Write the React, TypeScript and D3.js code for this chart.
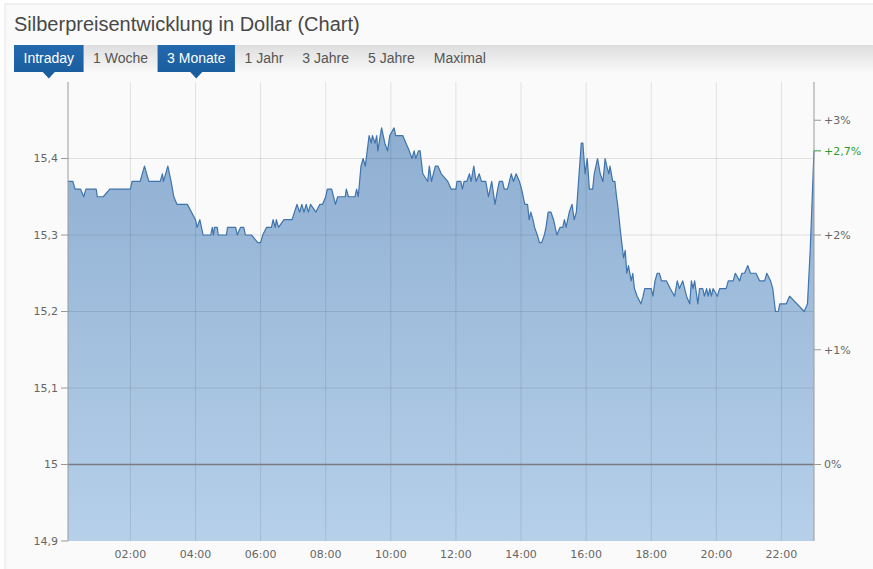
import React from 'react';
import * as d3 from 'd3';

// ---- data ----
const chartTitle = 'Silberpreisentwicklung in Dollar (Chart)';
const tabLabels = ['Intraday', '1 Woche', '3 Monate', '1 Jahr', '3 Jahre', '5 Jahre', 'Maximal'];
const activeTabs = ['Intraday', '3 Monate'];

// minutes since 00:00
const minutes = [
  5, 14, 18, 28, 34, 38, 57, 59, 70, 82,
  120, 123, 138, 146, 150, 154, 175, 179, 181, 189,
  195, 200, 206, 225, 240, 243, 248, 254, 268, 271,
  273, 275, 280, 282, 297, 299, 314, 317, 323, 329,
  332, 343, 355, 360, 364, 371, 380, 383, 387, 389,
  393, 403, 418, 427, 432, 436, 440, 444, 448, 452,
  462, 469, 474, 480, 483, 491, 498, 502, 516, 518,
  522, 534, 537, 540, 545, 549, 553, 560, 564, 566,
  571, 574, 576, 583, 589, 594, 598, 606, 609, 622,
  628, 634, 639, 643, 646, 651, 654, 659, 668, 671,
  675, 682, 687, 693, 705, 711, 720, 722, 729, 732,
  735, 740, 745, 748, 753, 757, 763, 767, 775, 780,
  786, 792, 797, 800, 806, 809, 815, 822, 826, 831,
  837, 841, 847, 852, 855, 858, 862, 865, 870, 874,
  878, 883, 886, 890, 895, 900, 906, 912, 917, 920,
  923, 929, 934, 938, 942, 946, 951, 954, 958, 962,
  966, 972, 975, 981, 986, 991, 995, 998, 1002, 1004,
  1009, 1013, 1016, 1018, 1024, 1029, 1032, 1035, 1038, 1043,
  1046, 1049, 1054, 1061, 1065, 1068, 1080, 1083, 1087, 1091,
  1095, 1099, 1108, 1115, 1123, 1128, 1132, 1138, 1145, 1151,
  1154, 1157, 1160, 1166, 1169, 1175, 1178, 1182, 1185, 1188,
  1191, 1194, 1202, 1206, 1218, 1222, 1231, 1235, 1243, 1247,
  1252, 1258, 1263, 1273, 1280, 1289, 1293, 1300, 1304, 1309,
  1314, 1317, 1329, 1335, 1362, 1368, 1373, 1380,
];

const prices = [
  15.37, 15.37, 15.36, 15.36, 15.35, 15.36, 15.36, 15.35, 15.35, 15.36,
  15.36, 15.37, 15.37, 15.39, 15.38, 15.37, 15.37, 15.38, 15.37, 15.39,
  15.37, 15.35, 15.34, 15.34, 15.32, 15.31, 15.32, 15.30, 15.30, 15.31,
  15.30, 15.31, 15.31, 15.30, 15.30, 15.31, 15.31, 15.30, 15.31, 15.31,
  15.30, 15.30, 15.29, 15.29, 15.30, 15.31, 15.31, 15.32, 15.31, 15.32,
  15.31, 15.32, 15.32, 15.34, 15.33, 15.34, 15.33, 15.34, 15.33, 15.34,
  15.33, 15.34, 15.34, 15.35, 15.36, 15.36, 15.34, 15.35, 15.35, 15.36,
  15.35, 15.35, 15.36, 15.35, 15.39, 15.40, 15.39, 15.43, 15.42, 15.43,
  15.42, 15.43, 15.41, 15.44, 15.42, 15.41, 15.43, 15.44, 15.43, 15.43,
  15.42, 15.41, 15.40, 15.41, 15.40, 15.41, 15.41, 15.38, 15.37, 15.39,
  15.37, 15.39, 15.39, 15.38, 15.37, 15.36, 15.36, 15.37, 15.37, 15.36,
  15.37, 15.37, 15.38, 15.37, 15.39, 15.37, 15.38, 15.37, 15.37, 15.35,
  15.37, 15.34, 15.36, 15.37, 15.37, 15.36, 15.36, 15.38, 15.37, 15.38,
  15.37, 15.36, 15.34, 15.34, 15.32, 15.33, 15.32, 15.31, 15.30, 15.29,
  15.29, 15.30, 15.31, 15.33, 15.33, 15.32, 15.30, 15.31, 15.31, 15.32,
  15.31, 15.33, 15.34, 15.32, 15.33, 15.37, 15.42, 15.42, 15.38, 15.40,
  15.36, 15.36, 15.38, 15.40, 15.38, 15.37, 15.40, 15.39, 15.38, 15.39,
  15.37, 15.37, 15.35, 15.34, 15.30, 15.27, 15.28, 15.25, 15.26, 15.24,
  15.25, 15.23, 15.22, 15.21, 15.22, 15.23, 15.23, 15.22, 15.24, 15.25,
  15.25, 15.24, 15.24, 15.23, 15.22, 15.24, 15.23, 15.24, 15.22, 15.21,
  15.24, 15.23, 15.24, 15.21, 15.23, 15.23, 15.22, 15.23, 15.22, 15.23,
  15.22, 15.23, 15.22, 15.23, 15.23, 15.24, 15.24, 15.25, 15.24, 15.25,
  15.25, 15.26, 15.25, 15.25, 15.24, 15.24, 15.25, 15.24, 15.23, 15.20,
  15.20, 15.21, 15.21, 15.22, 15.20, 15.21, 15.28, 15.41,
];

const hourTicks = [2, 4, 6, 8, 10, 12, 14, 16, 18, 20, 22];
const priceTicks = [14.9, 15, 15.1, 15.2, 15.3, 15.4];
const percentTicks = [0, 1, 2, 3];
const basePrice = 15.0;
const timeDomain = [5, 1380];
const priceDomain = [14.9, 15.5];

const deLocale = d3.formatLocale({ decimal: ',', thousands: '.', grouping: [3], currency: ['', ' €'] });
const fmtPrice = deLocale.format('.3~r');
const fmtPct = deLocale.format('.2~r');

function measure(text: string, font: string): number {
  const c = document.createElement('canvas').getContext('2d');
  if (!c) return text.length * 7;
  c.font = font;
  return c.measureText(text).width;
}

export default function App() {
  const W = 873;
  const H = 569;
  const left = 68;
  const right = 814;
  const top = 82;
  const bottom = 541;

  const x = d3.scaleLinear().domain(timeDomain).range([left, right]);
  const y = d3.scaleLinear().domain(priceDomain).range([bottom, top]);
  const yPct = (p: number) => y(basePrice * (1 + p / 100));

  const data = minutes.map((m, i) => ({ t: m, v: prices[i] }));
  const area = d3.area<{ t: number; v: number }>()
    .x(d => x(d.t))
    .y0(bottom)
    .y1(d => y(d.v));
  const line = d3.line<{ t: number; v: number }>()
    .x(d => x(d.t))
    .y(d => y(d.v));

  const last = prices[prices.length - 1];
  const lastPct = (last / basePrice - 1) * 100;

  const tabFont = '14px "Liberation Sans", Arial, sans-serif';
  const pad = 9.5;
  let cx = 14;
  const tabs = tabLabels.map(label => {
    const w = measure(label, tabFont);
    const t = { label, x0: cx, w: w + 2 * pad, active: activeTabs.includes(label) };
    cx += w + 2 * pad;
    return t;
  });

  const axisFont = '"DejaVu Sans", Verdana, sans-serif';
  const gridColor = 'rgba(0,0,0,0.1)';

  return (
    <svg width={W} height={H} style={{ position: 'absolute', left: 0, top: 0, background: '#ffffff' }}>
      <defs>
        <linearGradient id="tabbar" x1="0" y1="0" x2="0" y2="1">
          <stop offset="0" stopColor="#dedede" />
          <stop offset="1" stopColor="#f8f8f8" />
        </linearGradient>
        <linearGradient id="areaFill" gradientUnits="userSpaceOnUse" x1="0" y1={top} x2="0" y2={bottom}>
          <stop offset="0" stopColor="#8aabcf" />
          <stop offset="1" stopColor="#b6d0ea" />
        </linearGradient>
        <linearGradient id="btn" x1="0" y1="0" x2="0" y2="1">
          <stop offset="0" stopColor="#2369ad" />
          <stop offset="1" stopColor="#1a5e9f" />
        </linearGradient>
      </defs>

      <rect x={5} y={4} width={W} height={H} fill="#fafafa" stroke="#e4e4e4" />

      <text x={14} y={30.5} fontFamily='"Liberation Sans", Arial, sans-serif' fontSize={20} fill="#484848">
        {chartTitle}
      </text>

      <rect x={14} y={45} width={W - 14} height={27} fill="url(#tabbar)" />
      {tabs.map(t => (
        <g key={t.label}>
          {t.active && (
            <>
              <rect x={t.x0} y={45} width={t.w} height={27} fill="url(#btn)" />
              <path
                d={`M${t.x0 + t.w / 2 - 6},72 L${t.x0 + t.w / 2 + 6},72 L${t.x0 + t.w / 2},78.5 Z`}
                fill="#1a5e9f"
              />
            </>
          )}
          <text
            x={t.x0 + pad}
            y={63.3}
            fontFamily='"Liberation Sans", Arial, sans-serif'
            fontSize={14}
            fill={t.active ? '#ffffff' : '#555555'}
          >
            {t.label}
          </text>
        </g>
      ))}

      {/* area */}
      <path d={area(data) || ''} fill="url(#areaFill)" />

      {/* grid */}
      {hourTicks.map(h => (
        <line key={'v' + h} x1={x(h * 60)} x2={x(h * 60)} y1={top} y2={bottom} stroke={gridColor} strokeWidth={1} />
      ))}
      {priceTicks.filter(p => p > 15.0 + 1e-9).map(p => (
        <line key={'h' + p} x1={left} x2={right} y1={y(p)} y2={y(p)} stroke={gridColor} strokeWidth={1} />
      ))}
      <line x1={left} x2={right} y1={y(basePrice)} y2={y(basePrice)} stroke="#7a7a82" strokeWidth={1.3} />

      {/* price line */}
      <path d={line(data) || ''} fill="none" stroke="#3f74ac" strokeWidth={1.2} strokeLinejoin="round" />

      {/* left axis */}
      <line x1={left} x2={left} y1={top} y2={bottom} stroke="#9a9a9a" />
      {priceTicks.map(p => (
        <g key={'lt' + p}>
          <line x1={left - 7} x2={left} y1={y(p)} y2={y(p)} stroke="#9a9a9a" />
          <text x={left - 10} y={y(p)} dy="0.35em" textAnchor="end" fontFamily={axisFont} fontSize={11} fill="#666">
            {fmtPrice(p)}
          </text>
        </g>
      ))}

      {/* right axis */}
      <line x1={right} x2={right} y1={top} y2={bottom} stroke="#9a9a9a" />
      {percentTicks.map(p => (
        <g key={'rt' + p}>
          <line x1={right} x2={right + 7} y1={yPct(p)} y2={yPct(p)} stroke="#9a9a9a" />
          <text x={right + 10} y={yPct(p)} dy="0.35em" fontFamily={axisFont} fontSize={11} fill="#666">
            {p === 0 ? '0%' : '+' + fmtPct(p) + '%'}
          </text>
        </g>
      ))}
      <g>
        <line x1={right} x2={right + 7} y1={y(last)} y2={y(last)} stroke="#3a9a3a" />
        <text x={right + 10} y={y(last)} dy="0.35em" fontFamily={axisFont} fontSize={11} fill="#2f9a2f">
          {'+' + fmtPct(lastPct) + '%'}
        </text>
      </g>

      {/* x axis labels */}
      {hourTicks.map(h => (
        <text key={'xt' + h} x={x(h * 60)} y={558} textAnchor="middle" fontFamily={axisFont} fontSize={11} fill="#666">
          {String(h).padStart(2, '0') + ':00'}
        </text>
      ))}
    </svg>
  );
}
